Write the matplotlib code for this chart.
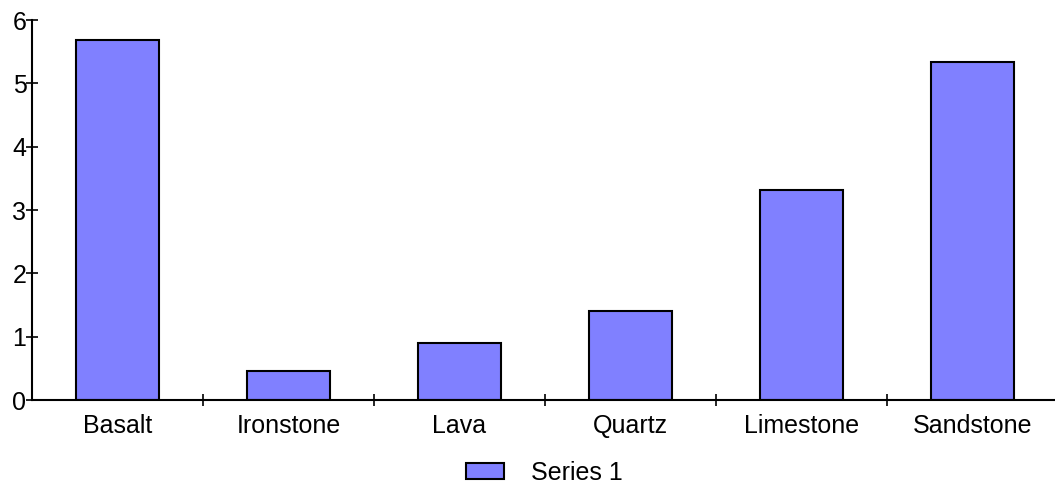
import numpy as np
import matplotlib.pyplot as plt

# --- DATA ---
rocks = ["Basalt", "Ironstone", "Lava", "Quartz", "Limestone", "Sandstone"]
series_1 = [5.68, 0.46, 0.9, 1.4, 3.32, 5.33]
y_ticks = [0, 1, 2, 3, 4, 5, 6]

plt.rcParams["font.family"] = ["Liberation Sans", "DejaVu Sans"]
plt.rcParams["font.size"] = 18

fig = plt.figure(figsize=(10.55, 4.96), dpi=100)
ax = fig.add_axes([32 / 1055, 96 / 496, 1026 / 1055, 380 / 496])

x = np.arange(len(rocks))
ax.bar(x, series_1, width=0.49, color="#8080FF", edgecolor="black",
       linewidth=1.5, label="Series 1", zorder=3)

ax.set_xlim(-0.5, len(rocks) - 0.5)
ax.set_ylim(0, 6)

for side in ["top", "right"]:
    ax.spines[side].set_visible(False)
for side in ["left", "bottom"]:
    ax.spines[side].set_linewidth(1.5)
    ax.spines[side].set_zorder(4)

# category separators as major ticks, names on minor ticks
ax.set_xticks(x[:-1] + 0.5)
ax.set_xticklabels([])
ax.set_xticks(x, minor=True)
ax.set_xticklabels(rocks, minor=True)
ax.tick_params(axis="x", which="major", direction="inout", length=8, width=1.2)
ax.tick_params(axis="x", which="minor", length=0, pad=10)

ax.set_yticks(y_ticks)
ax.tick_params(axis="y", direction="inout", length=8, width=1.2, pad=0)

fig.legend(loc="center", bbox_to_anchor=(0.516, 1 - 473 / 496), frameon=False,
           handlelength=1.5, handleheight=0.6, handletextpad=1.1)

fig.savefig("out.png", dpi=100)
